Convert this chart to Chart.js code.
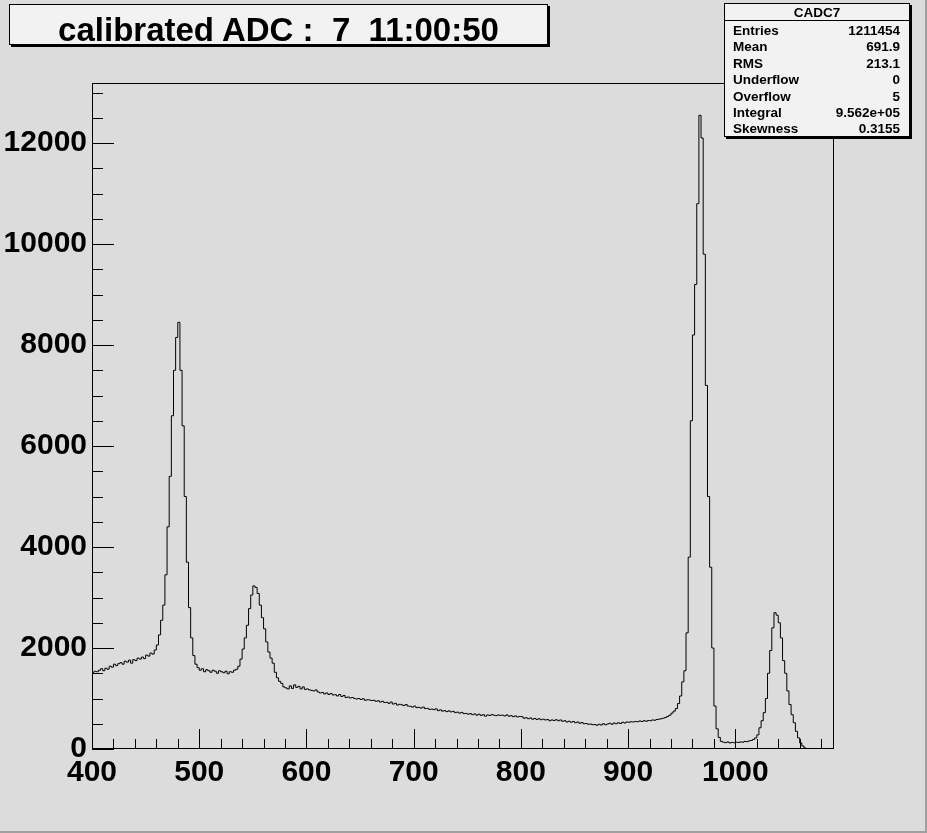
<!DOCTYPE html>
<html>
<head>
<meta charset="utf-8">
<title>calibrated ADC</title>
<script src="https://cdn.jsdelivr.net/npm/chart.js@4.4.0/dist/chart.umd.min.js"></script>
<style>
  html, body { margin: 0; padding: 0; background: #dcdcdc; }
  #wrap { position: relative; width: 927px; height: 833px; overflow: hidden; }
  #plot { position: absolute; left: 0; top: 0; }
  .box {
    position: absolute; background: #f2f2f2; border: 1px solid #000;
    box-shadow: 2px 2px 0 #000; color: #000;
    font-family: "Liberation Sans", Arial, sans-serif; font-weight: bold;
  }
  #title {
    left: 9px; top: 4px; width: 537px; height: 39px; overflow: hidden;
    font-size: 33px; line-height: 50px; text-align: center; white-space: pre;
  }
  #stats { left: 724px; top: 3px; width: 184px; height: 132px; font-size: 13.5px; }
  #stats .head { text-align: center; height: 16px; line-height: 17px; border-bottom: 1px solid #000; }
  #stats .rows { padding-top: 2px; }
  #stats .row { display: flex; justify-content: space-between; padding: 0 9px 0 8px; height: 16.4px; line-height: 16.4px; }
</style>
</head>
<body>
<div id="wrap">
  <canvas id="plot" width="927" height="833"></canvas>
  <div id="title" class="box"></div>
  <div id="stats" class="box"><div class="head"></div><div class="rows"></div></div>
</div>
<script>
(function () {
  'use strict';

  // --- datos del histograma (bins de 2 unidades desde 400) ---
  var binLow = 400;
  var binWidth = 2;
  var counts = [
    // 400
    1520, 1540, 1530, 1560, 1590, 1550, 1600, 1580, 1640, 1620,
    // 420
    1680, 1650, 1690, 1710, 1680, 1740, 1720, 1760, 1700, 1770,
    // 440
    1750, 1800, 1780, 1820, 1790, 1860, 1840, 1900, 1880, 1960,
    // 460
    2060, 2260, 2550, 2850, 3450, 4400, 5400, 6600, 7500, 8150,
    // 480
    8450, 7500, 6400, 5000, 3700, 2800, 2200, 1850, 1680, 1610,
    // 500
    1560, 1590, 1530, 1570, 1550, 1520, 1560, 1540, 1500, 1550,
    // 520
    1530, 1510, 1540, 1490, 1530, 1520, 1560, 1580, 1640, 1780,
    // 540
    1980, 2200, 2450, 2780, 3050, 3230, 3200, 3080, 2850, 2600,
    // 560
    2380, 2120, 1920, 1800, 1700, 1520, 1410, 1340, 1300, 1230,
    // 580
    1210, 1190, 1250, 1200, 1270, 1220, 1240, 1190, 1230, 1180,
    // 600
    1190, 1170, 1160, 1150, 1170, 1130, 1110, 1120, 1090, 1110,
    // 620
    1080, 1100, 1070, 1075, 1050, 1080, 1040, 1060, 1020, 1030,
    // 640
    1010, 1020, 1000, 990, 1000, 980, 995, 965, 975, 970,
    // 660
    960, 965, 945, 955, 930, 945, 920, 925, 905, 930,
    // 680
    890, 905, 870, 885, 875, 860, 880, 850, 845, 830,
    // 700
    850, 820, 825, 810, 830, 800, 805, 785, 790, 780,
    // 720
    795, 760, 775, 750, 760, 740, 755, 735, 745, 720,
    // 740
    730, 710, 725, 700, 705, 690, 700, 680, 695, 670,
    // 760
    690, 665, 680, 650, 675, 665, 680, 670, 660, 675,
    // 780
    665, 670, 655, 675, 650, 660, 640, 655, 635, 645,
    // 800
    640, 610, 620, 600, 615, 590, 605, 585, 600, 580,
    // 820
    590, 575, 585, 560, 575, 565, 580, 560, 575, 550,
    // 840
    560, 535, 550, 530, 545, 520, 535, 510, 525, 500,
    // 860
    505, 490, 495, 480, 485, 470, 490, 475, 500, 480,
    // 880
    495, 510, 490, 515, 500, 520, 505, 530, 515, 535,
    // 900
    530, 540, 535, 545, 540, 555, 545, 560, 550, 565,
    // 920
    560, 575, 570, 585, 590, 600, 610, 625, 645, 670,
    // 940
    710, 750, 800, 900, 1050, 1330, 1550, 2300, 3800, 6500,
    // 960
    8200, 9200, 10800, 12550, 12100, 9800, 7200, 5000, 3600, 2000,
    // 980
    850, 400, 230, 150, 135, 125, 140, 120, 130, 125,
    // 1000
    135, 130, 140, 135, 150, 145, 160, 170, 190, 220,
    // 1020
    280, 420, 560, 720, 1000, 1500, 1950, 2400, 2700, 2650,
    // 1040
    2500, 2200, 1750, 1500, 1150, 880, 680, 520, 350, 220,
    // 1060
    120, 60, 20, 5, 0, 0, 0, 0, 0, 0,
    // 1080
    0, 0, 0, 0, 0, 0
  ];

  var xMin = 400;
  var xMax = 1092;
  var yMax = 13190;
  var xTicks = [400, 500, 600, 700, 800, 900, 1000];
  var yTicks = [0, 2000, 4000, 6000, 8000, 10000, 12000];

  var titleText = 'calibrated ADC :  7  11:00:50';
  var statsName = 'CADC7';
  var statLabels = ['Entries', 'Mean', 'RMS', 'Underflow', 'Overflow', 'Integral', 'Skewness'];
  var statValues = ['1211454', '691.9', '213.1', '0', '5', '9.562e+05', '0.3155'];

  // --- cajas de texto ---
  document.getElementById('title').textContent = titleText;
  var stats = document.getElementById('stats');
  stats.querySelector('.head').textContent = statsName;
  var rows = stats.querySelector('.rows');
  statLabels.forEach(function (lab, i) {
    var row = document.createElement('div');
    row.className = 'row';
    var a = document.createElement('span');
    a.textContent = lab;
    var b = document.createElement('span');
    b.textContent = statValues[i];
    row.appendChild(a);
    row.appendChild(b);
    rows.appendChild(row);
  });

  // puntos en el borde inferior de cada bin, mas el borde final
  var points = counts.map(function (c, i) {
    return { x: binLow + i * binWidth, y: c };
  });
  points.push({ x: binLow + counts.length * binWidth, y: counts[counts.length - 1] });

  var bold = { family: '"Liberation Sans", Arial, sans-serif', size: 30, weight: 'bold' };
  var plainLabel = function (v) { return String(v); };

  // fondo, marco y marcas de eje hacia dentro (estilo ROOT)
  var rootFrame = {
    id: 'rootFrame',
    beforeDraw: function (chart) {
      var c = chart.ctx;
      c.save();
      c.fillStyle = '#dcdcdc';
      c.fillRect(0, 0, chart.width, chart.height);
      c.fillStyle = '#a0a0a0';
      c.fillRect(0, chart.height - 2, chart.width, 2);
      c.fillRect(chart.width - 2, 0, 2, chart.height);
      c.restore();
    },
    afterDatasetsDraw: function (chart) {
      var c = chart.ctx;
      var a = chart.chartArea;
      var x = chart.scales.x;
      var y = chart.scales.y;
      c.save();
      c.strokeStyle = '#000';
      c.lineWidth = 1;
      c.strokeRect(a.left + 0.5, a.top + 0.5, a.right - a.left - 1, a.bottom - a.top - 1);
      c.beginPath();
      var v, p, len;
      for (v = xMin; v <= xMax; v += 20) {
        p = Math.round(x.getPixelForValue(v)) + 0.5;
        len = v % 100 === 0 ? 20 : 10;
        c.moveTo(p, a.bottom);
        c.lineTo(p, a.bottom - len);
      }
      for (v = 0; v <= yMax; v += 500) {
        p = Math.round(y.getPixelForValue(v)) + 0.5;
        len = v % 2000 === 0 ? 22 : 11;
        c.moveTo(a.left, p);
        c.lineTo(a.left + len, p);
      }
      c.stroke();
      c.restore();
    }
  };

  new Chart(document.getElementById('plot').getContext('2d'), {
    type: 'line',
    data: {
      datasets: [{
        data: points,
        stepped: true,
        borderColor: '#000',
        borderWidth: 1,
        pointRadius: 0,
        fill: false
      }]
    },
    options: {
      responsive: false,
      animation: false,
      devicePixelRatio: 1,
      layout: { padding: { left: 0, top: 83, right: 93, bottom: 0 } },
      plugins: { legend: { display: false }, tooltip: { enabled: false } },
      scales: {
        x: {
          type: 'linear',
          min: xMin,
          max: xMax,
          grid: { display: false, drawTicks: false },
          border: { display: false },
          afterFit: function (s) { s.height = 84; },
          afterBuildTicks: function (s) { s.ticks = xTicks.map(function (t) { return { value: t }; }); },
          ticks: { color: '#000', font: bold, padding: 6, maxRotation: 0, autoSkip: false, callback: plainLabel }
        },
        y: {
          type: 'linear',
          min: 0,
          max: yMax,
          grid: { display: false, drawTicks: false },
          border: { display: false },
          afterFit: function (s) { s.width = 92; },
          afterBuildTicks: function (s) { s.ticks = yTicks.map(function (t) { return { value: t }; }); },
          ticks: { color: '#000', font: bold, padding: 5, autoSkip: false, callback: plainLabel }
        }
      }
    },
    plugins: [rootFrame]
  });
})();
</script>
</body>
</html>
